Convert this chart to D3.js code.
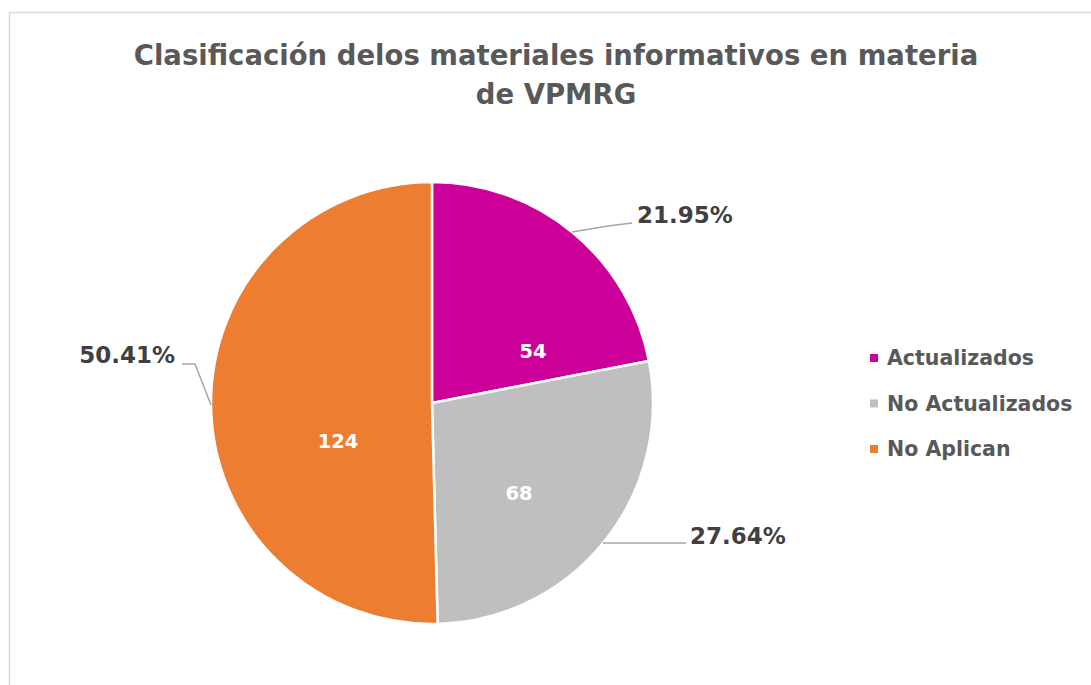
<!DOCTYPE html>
<html>
<head>
<meta charset="utf-8">
<script src="https://cdn.jsdelivr.net/npm/d3@7"></script>
<style>
  html, body { margin: 0; padding: 0; background: #ffffff; }
  svg { display: block; font-family: "DejaVu Sans", "Noto Sans", sans-serif; }
</style>
</head>
<body>
<svg id="pieChart" width="1091" height="685"></svg>
<script>
// ── data ───────────────────────────────────────────────────────────────────
const categories  = ["Actualizados", "No Actualizados", "No Aplican"];
const counts      = [54, 68, 124];
const percentText = ["21.95%", "27.64%", "50.41%"];
const colors      = ["#CC0099", "#BFBFBF", "#ED7D31"];
const titleLines  = ["Clasificación delos materiales informativos en materia", "de VPMRG"];

// ── layout ─────────────────────────────────────────────────────────────────
const cx = 432, cy = 403, radius = 221;
// where Excel dropped the labels, as offsets from the pie centre
const innerLabelAt = [[101, -52], [87, 90], [-94, 38]];
const outerLabelAt = [[205, -188], [258, 133], [-257, -48]];
const outerAnchor  = ["start", "start", "end"];

const svg = d3.select("#pieChart");

svg.append("rect").attr("x", 9.5).attr("y", 12.5).attr("width", 1090).attr("height", 680)
  .attr("fill", "#ffffff").attr("stroke", "#D9D9D9").attr("stroke-width", 1.5);

svg.selectAll("text.title").data(titleLines).join("text").attr("class", "title")
  .attr("x", 556).attr("y", (d, i) => 65 + i * 39).attr("text-anchor", "middle")
  .attr("font-size", 27.5).attr("font-weight", "bold").attr("fill", "#595959").text(d => d);

const rows = categories.map((c, i) => ({ name: c, value: counts[i], pct: percentText[i], color: colors[i], i }));
const pie  = d3.pie().value(d => d.value).sort(null);
const arc  = d3.arc().innerRadius(0).outerRadius(radius);
const arcs = pie(rows);

const root = svg.append("g").attr("transform", `translate(${cx},${cy})`);

root.selectAll("path.slice").data(arcs).join("path").attr("class", "slice")
  .attr("d", arc).attr("fill", d => d.data.color).attr("stroke", "#ffffff").attr("stroke-width", 2.5);

// leader lines: start on the rim (x found from the y where they leave), run to the label
const rimX = (y, side) => side * Math.sqrt(radius * radius - y * y);
const leaders = arcs.map((d, i) => {
  const [ox, oy] = outerLabelAt[i];
  if (i === 0) return [[rimX(-171, 1), -171], [176, -177], [200, -180]];
  if (i === 1) return [[rimX(140, 1), 140], [ox - 4, 140]];
  return [[-221, 2], [-237, -39], [ox + 7, -39]];
});
root.selectAll("path.leader").data(leaders).join("path").attr("class", "leader")
  .attr("d", d3.line()).attr("fill", "none").attr("stroke", "#A6A6A6").attr("stroke-width", 1.5);

root.selectAll("text.inner").data(arcs).join("text").attr("class", "inner")
  .attr("x", (d, i) => innerLabelAt[i][0]).attr("y", (d, i) => innerLabelAt[i][1])
  .attr("dy", "0.35em").attr("text-anchor", "middle").attr("font-size", 19.5).attr("font-weight", "bold")
  .attr("fill", "#ffffff").text(d => d.data.value);

root.selectAll("text.outer").data(arcs).join("text").attr("class", "outer")
  .attr("x", (d, i) => outerLabelAt[i][0]).attr("y", (d, i) => outerLabelAt[i][1])
  .attr("dy", "0.35em").attr("text-anchor", (d, i) => outerAnchor[i]).attr("font-size", 23).attr("font-weight", "bold")
  .attr("fill", "#404040").text(d => d.data.pct);

// legend
const legend = svg.append("g").attr("transform", "translate(870,358)");
const item = legend.selectAll("g.item").data(rows).join("g").attr("class", "item")
  .attr("transform", (d, i) => `translate(0,${i * 45.5})`);
item.append("rect").attr("x", 0).attr("y", -4).attr("width", 8).attr("height", 8).attr("fill", d => d.color);
item.append("text").attr("x", 17).attr("dy", "0.35em").attr("font-size", 20.5).attr("font-weight", "bold")
  .attr("fill", "#595959").text(d => d.name);
</script>
</body>
</html>
